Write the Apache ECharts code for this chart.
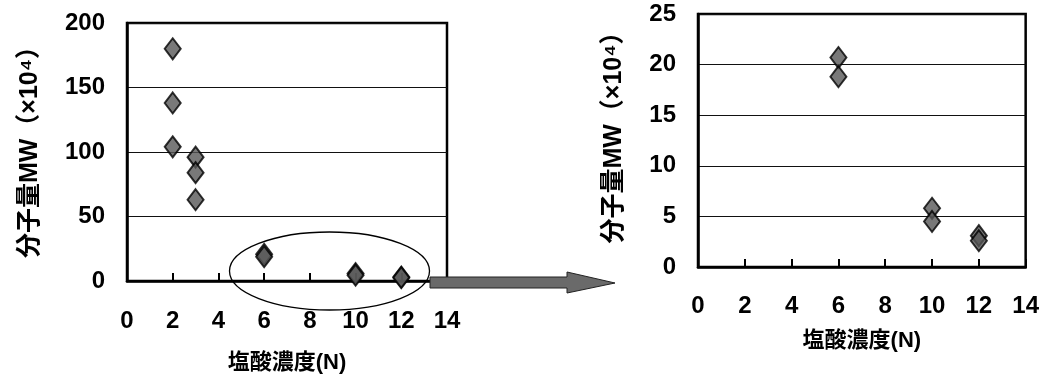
<!DOCTYPE html>
<html>
<head>
<meta charset="utf-8">
<script src="https://cdn.jsdelivr.net/npm/echarts@6/dist/echarts.min.js"></script>
<style>
html,body{margin:0;padding:0;background:#fff;}
#c{width:1042px;height:379px;}
</style>
</head>
<body>
<div id="c"></div>
<script>
// HCl concentration (N) and molecular weight MW (x10^4)
const concentrations = [2, 2, 2, 3, 3, 3, 6, 6, 10, 10, 12, 12];
const mwValues = [180, 138, 104, 96, 84, 63, 20.7, 18.8, 5.8, 4.5, 3.1, 2.6];
const xTicks = [0, 2, 4, 6, 8, 10, 12, 14];
const leftYTicks = [0, 50, 100, 150, 200];
const rightYTicks = [0, 5, 10, 15, 20, 25];
const zoomFrom = 6; // right panel: enlarged view of points with concentration >= 6

const xName = '塩酸濃度(N)';
const yName = '分子量MW（×10⁴）';

const allPoints = concentrations.map((c, i) => [c, mwValues[i]]);
const zoomPoints = allPoints.filter(p => p[0] >= zoomFrom);

const numFont = 'Liberation Sans, Arial, sans-serif';
const cjkFont = 'Liberation Sans, Noto Sans CJK JP, sans-serif';

function xAxisCfg(gridIndex, labelMargin, nameGap) {
  return {
    gridIndex, type: 'value',
    min: xTicks[0], max: xTicks[xTicks.length - 1], interval: xTicks[1] - xTicks[0],
    name: xName, nameLocation: 'middle', nameGap,
    nameTextStyle: {fontFamily: cjkFont, fontWeight: 'bold', fontSize: 22, color: '#000', verticalAlign: 'top'},
    axisLine: {show: true, lineStyle: {color: '#000', width: 2.5}},
    axisTick: {show: true, inside: true, length: 8, lineStyle: {color: '#000', width: 2}},
    axisLabel: {margin: labelMargin, fontFamily: numFont, fontWeight: 'bold', fontSize: 24, color: '#000'},
    splitLine: {show: false}
  };
}
function yAxisCfg(gridIndex, ticks, nameGap, namePad) {
  return {
    gridIndex, type: 'value',
    min: ticks[0], max: ticks[ticks.length - 1], interval: ticks[1] - ticks[0],
    name: yName, nameLocation: 'middle', nameGap, nameRotate: 90,
    nameTextStyle: {fontFamily: cjkFont, fontWeight: 'bold', fontSize: 25, color: '#000', padding: namePad},
    axisLine: {show: true, lineStyle: {color: '#000', width: 2.5}},
    axisTick: {show: false},
    axisLabel: {margin: 22, fontFamily: numFont, fontWeight: 'bold', fontSize: 24, color: '#000'},
    splitLine: {show: true, lineStyle: {color: '#111', width: 1.2}}
  };
}
const markerStyle = {color: '#585858', borderColor: '#000', borderWidth: 2};

const chart = echarts.init(document.getElementById('c'), null, {renderer: 'canvas'});
chart.setOption({
  animation: false,
  backgroundColor: '#fff',
  grid: [
    {left: 127, top: 23, width: 320, height: 261, show: true, borderColor: '#000', borderWidth: 2.5, backgroundColor: 'transparent'},
    {left: 698, top: 14, width: 330, height: 253, show: true, borderColor: '#000', borderWidth: 2.5, backgroundColor: 'transparent'}
  ],
  xAxis: [xAxisCfg(0, 28, 71), xAxisCfg(1, 27, 63)],
  yAxis: [yAxisCfg(0, leftYTicks, 84, [0, 0, 0, 12]), yAxisCfg(1, rightYTicks, 71, [0, 0, 0, 18])],
  series: [
    {type: 'scatter', xAxisIndex: 0, yAxisIndex: 0, data: allPoints, symbol: 'diamond', symbolSize: [16, 21], itemStyle: markerStyle, z: 5},
    {type: 'scatter', xAxisIndex: 1, yAxisIndex: 1, data: zoomPoints, symbol: 'diamond', symbolSize: [16, 21], itemStyle: markerStyle, z: 5}
  ],
  graphic: [
    {type: 'ellipse', shape: {cx: 329.5, cy: 271, rx: 100, ry: 39}, style: {fill: 'none', stroke: '#000', lineWidth: 1.3}, z: 10},
    {type: 'polygon', shape: {points: [[430, 277], [567, 277], [567, 272], [615, 283], [567, 293], [567, 288], [430, 288]]},
     style: {fill: '#6a6a6a', stroke: '#222', lineWidth: 1}, z: 10}
  ]
});
</script>
</body>
</html>
